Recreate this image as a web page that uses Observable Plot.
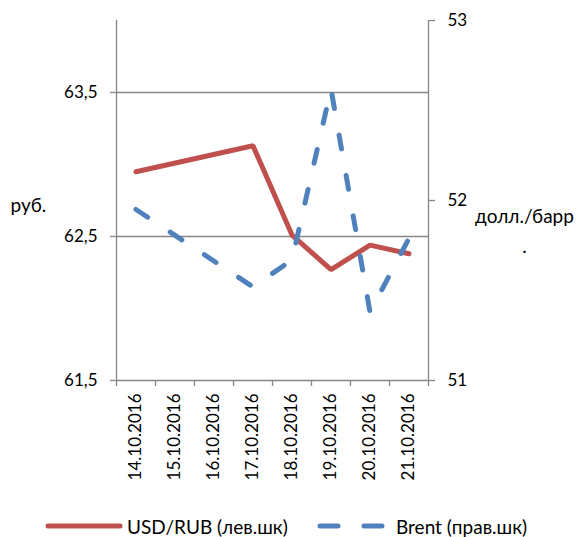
<!DOCTYPE html>
<html><head><meta charset="utf-8">
<script src="https://cdn.jsdelivr.net/npm/d3@7"></script>
<script src="https://cdn.jsdelivr.net/npm/@observablehq/plot@0.6"></script>
<style>
body{margin:0;background:#fff;font-family:Lato,"Open Sans",sans-serif;}
#legend{position:relative;height:42px;font-size:19px;color:#000;}
#legend .item{position:absolute;top:19px;display:flex;align-items:center;height:24px;}
</style></head>
<body>
<div id="chart"></div>
<div id="legend"></div>
<script>
const dates = ["14.10.2016","15.10.2016","16.10.2016","17.10.2016","18.10.2016","19.10.2016","20.10.2016","21.10.2016"];
const usdRub = [62.95, null, null, 63.13, 62.51, 62.27, 62.44, 62.38];
const brent = [51.95, null, null, 51.52, 51.67, 52.62, 51.38, 51.79];
const leftDomain = [61.5, 64];
const rightDomain = [51, 53];
const leftTicks = [61.5, 62.5, 63.5];
const gridTicks = [62.5, 63.5];
const rightTicks = [51, 52, 53];
const seriesNames = ["USD/RUB (лев.шк)", "Brent (прав.шк)"];
const colors = ["#C0504D", "#4F81BD"];
const leftTitle = "руб.";
const rightTitle = "долл./барр\n.";

const k = (leftDomain[1]-leftDomain[0])/(rightDomain[1]-rightDomain[0]);
const toLeft = b => leftDomain[0] + (b - rightDomain[0]) * k;
const fromLeft = v => rightDomain[0] + (v - leftDomain[0]) / k;

const idx = d3.range(dates.length);
const red = idx.filter(i => usdRub[i] != null).map(i => ({i, v: usdRub[i]}));
const blue = idx.filter(i => brent[i] != null).map(i => ({i, v: toLeft(brent[i])}));
const bounds = d3.range(dates.length + 1).map(i => i - 0.5);
const grey = "#868686";
const fmt = v => String(v).replace(".", ",");

const chart = Plot.plot({
  width: 577, height: 495,
  marginLeft: 116, marginRight: 149, marginTop: 20, marginBottom: 115,
  style: {fontFamily: "Lato, 'Open Sans', sans-serif", fontSize: "17px", color: "#000", background: "#fff"},
  x: {type: "linear", domain: [-0.5, dates.length - 0.5]},
  y: {domain: leftDomain},
  marks: [
    Plot.ruleY(gridTicks, {stroke: grey, strokeWidth: 1.3}),
    Plot.ruleY([leftDomain[0]], {stroke: grey, strokeWidth: 1.3}),
    Plot.ruleX([bounds[0], bounds[bounds.length-1]], {y1: leftDomain[0], y2: leftDomain[1], stroke: grey, strokeWidth: 1.3}),
    Plot.ruleX(bounds, {y1: leftDomain[0], y2: leftDomain[0], insetBottom: -6, stroke: grey, strokeWidth: 1.3}),
    Plot.axisY({anchor: "left", ticks: leftTicks, tickFormat: fmt, tickSize: 6, tickPadding: 13, stroke: grey, strokeWidth: 1.3, label: null}),
    Plot.axisY({anchor: "right", ticks: rightTicks.map(toLeft), tickFormat: v => fmt(Math.round(fromLeft(v)*10)/10), tickSize: 6, tickPadding: 13, stroke: grey, strokeWidth: 1.3, label: null}),
    Plot.axisX({ticks: idx, tickFormat: i => dates[i], tickRotate: -90, tickSize: 0, tickPadding: 13, label: null}),
    Plot.line(red, {x: "i", y: "v", stroke: colors[0], strokeWidth: 5, strokeLinejoin: "miter", strokeLinecap: "round"}),
    Plot.line(blue, {x: "i", y: "v", stroke: colors[1], strokeWidth: 5, strokeDasharray: "14 27", strokeLinecap: "round", strokeLinejoin: "round"}),
    Plot.text([leftTitle], {frameAnchor: "left", textAnchor: "start", dx: -106, dy: 5, fill: "#000", fontSize: 19}),
    Plot.text([rightTitle], {frameAnchor: "right", textAnchor: "middle", dx: 96, dy: 28, lineHeight: 1.55, fill: "#000", fontSize: 19})
  ]
});
document.getElementById("chart").appendChild(chart);

const legend = document.getElementById("legend");
const items = [
  {name: seriesNames[0], color: colors[0], dash: null, w: 72, gap: 7, left: 48},
  {name: seriesNames[1], color: colors[1], dash: "18 26", w: 66, gap: 13, left: 317}
];
const svgNS = "http://www.w3.org/2000/svg";
items.forEach(it => {
  const d = document.createElement("div");
  d.className = "item";
  d.style.left = (it.left - 3) + "px";
  const s = document.createElementNS(svgNS, "svg");
  s.setAttribute("width", it.w + 6); s.setAttribute("height", 10);
  const l = document.createElementNS(svgNS, "line");
  l.setAttribute("x1", it.dash ? 6 : 3); l.setAttribute("x2", it.w + 3);
  l.setAttribute("y1", 5); l.setAttribute("y2", 5);
  l.setAttribute("stroke", it.color); l.setAttribute("stroke-width", 5);
  l.setAttribute("stroke-linecap", "round");
  if (it.dash) l.setAttribute("stroke-dasharray", it.dash);
  s.appendChild(l);
  d.appendChild(s);
  const t = document.createElement("span");
  t.textContent = it.name;
  t.style.marginLeft = (it.gap - 3) + "px";
  d.appendChild(t);
  legend.appendChild(d);
});
</script>
</body></html>
